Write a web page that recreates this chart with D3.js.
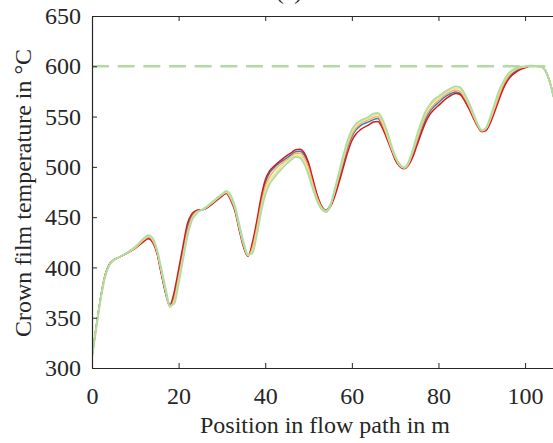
<!DOCTYPE html>
<html><head><meta charset="utf-8">
<script src="https://cdn.jsdelivr.net/npm/d3@7"></script>
<style>
html,body{margin:0;padding:0;background:#fff;}
svg{display:block;}
</style></head>
<body>
<svg id="c" width="553" height="443"></svg>
<script>
const positions = [0,1,2,3,4,5,6,8,10,12,13,14,15,16,17,18,19,20,21,22,23,24,26,28,30,31,32,33,34,35,36,37,38,39,40,41,42,44,46,47,48,49,50,51,52,53,54,55,56,57,58,59,60,61,62,64,65,66,67,68,69,70,71,72,73,74,75,76,77,78,79,80,82,84,85,86,87,88,89,90,91,92,93,94,95,96,97,98,99,100,101,102,103,104,105,106,107];

const seriesBlue = [311,342,370,392,403,407.5,409.5,414,419.5,427,430,426,415,394,374,361,372,393,415,438,451,456,458,464,471,473.5,467,456,437,420,411,421,441,465,484,494,499,506,512,515,515.5,512,502,486,471,461,457,462,473,488,503,519,530,537,541,545,547,548,541,530,519,508,501,498.5,502,511,524,536,547,555,560,564,571,574.5,573,567,559,550,541,535.5,537,546,557,569,580,588,592.5,595.5,597.5,599,600,600,600,599,593,580,562];

const seriesRed = [311,342,370,392,403,407.5,409.5,414,419,426,428.5,425,414,394,375,363,376,398,421,443,453,456.5,458,464,471,474,468,457,438,421,411,424,445,469,487,496,500.5,508,514,517,517.5,514,504,488,472,461,456.5,460,470,484,499,514,526,533,537,542,544.5,545,539,529,518,507,500.5,498,501,509,521,533,544,552,557,561,568.5,573,572,566,558,549,540.5,535,536,544,555,567,578,586,591,594.5,597,598.5,600,600,600,599,593,580,562];

const seriesOrange = [311,341.5,369.5,391.5,402.5,407.5,409.5,414,419.5,427.5,430.5,427,416,396,376,361,369,390,412,435,449,455,458.5,465,472,474.5,469,458,439,422,411.5,419,438,461,480,490,496,504,510,513.5,513.5,509,499,483,469,460,456.5,461.5,474,490,506,521,532,539,543,547,549,550,543,532,520,509,501.5,499,502.5,513,526,539,550,557,562,566,573,576.5,575,569,561,551,542,536,538,547,559,571,582,589,594,597,598.5,599.5,600,600,600,599,593,580,562];

const seriesYellow = [311,341,369,391,402,407,409.5,414.5,420,428,431,428,417,397,377,361.5,366,387,410,432,447,454,458.5,465.5,472.5,475,470.5,460,441,424,412,416,434,457,476,487,492,502,509,512,511,506,495,480,467,459,455.5,461,475.5,492,508,524,535,541,544.5,548.5,551,552,546,534,521,510,502,499,503,515,529,542,553,560,565,568,575,578.5,577,571,562.5,552.5,542.5,536,538.5,548.5,561,574,584,591,595,598,599,599.5,600.5,600.5,600,599,593,580,562];

const seriesGreen = [311,340,368,390,402,407,409.5,414.5,420.5,429,432,429,418,399,379,362,364,384,407,430,446,453,459,466,473,476,472,461,443,425,413,414,431,454,472,483,489,499,507,510,509,503,492,478,466,458,455,461,477,494,511,526,537,543,546,550,553,553.5,548,537,523,511,503,499.5,504,516,531,544,555,562,567,570,576,580,579,573,564,554,543,536.5,539,550,563,576,585,592,596,598.5,599.5,600,600.5,600.5,600,599,593,580,562];

const limitValue = [600];
const xTicks = [0,20,40,60,80,100];
const yTicks = [300,350,400,450,500,550,600,650];
const titleText = "(a)";
const xLabel = "Position in flow path in m";
const yLabel = "Crown film temperature in \u00B0C";

const series = [
  {name:"blue", values:seriesBlue, color:"#2b83ba", w:1.5},
  {name:"red", values:seriesRed, color:"#d7191c", w:1.5},
  {name:"orange", values:seriesOrange, color:"#fdae61", w:1.5},
  {name:"yellow", values:seriesYellow, color:"#fee08b", w:1.5},
  {name:"green", values:seriesGreen, color:"#abdda4", w:1.9}
];

const FONT = "'Liberation Serif'";
const L = 92, R = 558, T = 16, B = 368;
const x = d3.scaleLinear().domain([0,107.6]).range([L,R]);
const y = d3.scaleLinear().domain([300,650]).range([B,T]);

const svg = d3.select("#c");
svg.append("defs").append("clipPath").attr("id","clip")
  .append("rect").attr("x",L).attr("y",T).attr("width",R-L).attr("height",B-T);

const plot = svg.append("g").attr("clip-path","url(#clip)");
const line = d3.line().x((d,i)=>x(positions[i])).y(d=>y(d)).curve(d3.curveMonotoneX);
series.forEach(s=>{
  plot.append("path").datum(s.values).attr("d",line)
    .attr("fill","none").attr("stroke",s.color).attr("stroke-width",s.w)
    .attr("stroke-linejoin","round");
});
plot.selectAll("line.limit").data(limitValue).enter().append("line")
  .attr("class","limit").attr("x1",L).attr("x2",R)
  .attr("y1",d=>y(d)).attr("y2",d=>y(d))
  .attr("stroke","#b2dba1").attr("stroke-width",2.6)
  .attr("stroke-dasharray","17,8.67");

const axisColor = "#262626";
const fs = 24;
const gx = svg.append("g").attr("transform",`translate(0,${B})`)
  .call(d3.axisBottom(x).tickValues(xTicks).tickSizeInner(-5).tickSizeOuter(0).tickPadding(19));
const gxt = svg.append("g").attr("transform",`translate(0,${T})`)
  .call(d3.axisTop(x).tickValues(xTicks).tickSizeInner(-5).tickSizeOuter(0).tickFormat(""));
const gy = svg.append("g").attr("transform",`translate(${L},0)`)
  .call(d3.axisLeft(y).tickValues(yTicks).tickSizeInner(-5).tickSizeOuter(0).tickPadding(11));
[gx,gxt,gy].forEach(g=>{
  g.attr("font-family","Liberation Serif").attr("font-size",fs);
  g.selectAll("path.domain").attr("stroke",axisColor).attr("stroke-width",1.2);
  g.selectAll(".tick line").attr("stroke",axisColor).attr("stroke-width",1);
  g.selectAll(".tick text").style("font-family",FONT).style("font-size",fs+"px").attr("fill",axisColor);
});

svg.append("text").attr("x",(L+R)/2).attr("y",433).attr("text-anchor","middle")
  .style("font-family",FONT).style("font-size","24px").attr("fill",axisColor).text(xLabel);
svg.append("text").attr("transform",`translate(31,${(T+B)/2 + 1}) rotate(-90)`)
  .attr("text-anchor","middle").style("font-family",FONT).style("font-size","24px").attr("fill",axisColor).text(yLabel);
svg.append("text").attr("x",289).attr("y",-1.5).attr("text-anchor","middle")
  .style("font-family",FONT).style("font-size","24px").attr("fill",axisColor).text(titleText);
</script>
</body></html>
